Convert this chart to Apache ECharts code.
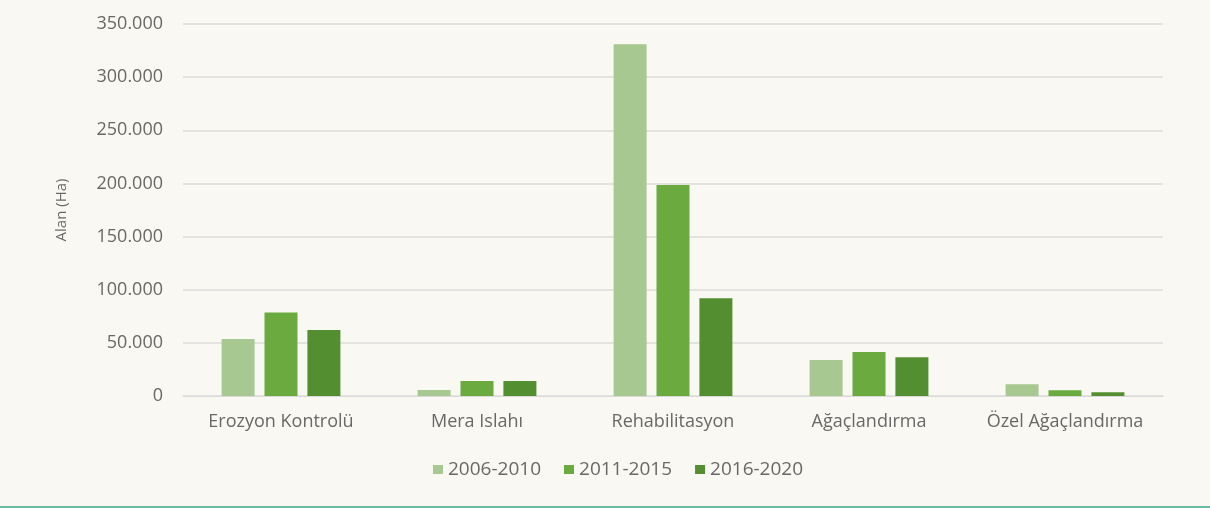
<!DOCTYPE html>
<html>
<head>
<meta charset="utf-8">
<script src="https://cdn.jsdelivr.net/npm/echarts@6/dist/echarts.min.js"></script>
<style>
  html, body { margin: 0; padding: 0; background: #faf8f2; }
  #chart { width: 1210px; height: 506px; }
  .bottom-line { width: 1210px; height: 2px; background: #6db7a3; }
</style>
</head>
<body>
<div id="chart"></div>
<div class="bottom-line"></div>
<script>
const categories = ['Erozyon Kontrolü', 'Mera Islahı', 'Rehabilitasyon', 'Ağaçlandırma', 'Özel Ağaçlandırma']
const periods = ['2006-2010', '2011-2015', '2016-2020']
const values2006 = [53600, 5600, 331000, 33900, 11000]
const values2011 = [78500, 14000, 198500, 41400, 5400]
const values2016 = [62000, 14000, 92000, 36400, 3500]
const colors = ['#a8c891', '#6aaa3f', '#538f31']

const chart = echarts.init(document.getElementById('chart'))
const textColor = '#686868'
const font = '"Open Sans", sans-serif'

chart.setOption({
  backgroundColor: '#faf8f2',
  animation: false,
  grid: { left: 183, right: 47, top: 24, bottom: 110 },
  legend: {
    top: 455,
    left: 428,
    itemWidth: 10,
    itemHeight: 9,
    itemGap: 23,
    icon: 'rect',
    textStyle: { color: textColor, fontSize: 19, fontFamily: font },
    data: periods,
  },
  xAxis: {
    type: 'category',
    data: categories,
    axisLine: { lineStyle: { color: '#d9d9d9' } },
    axisTick: { show: false },
    axisLabel: { color: textColor, fontSize: 18, fontFamily: font, margin: 17, interval: 0 },
  },
  yAxis: {
    type: 'value',
    min: 0,
    max: 350000,
    interval: 50000,
    name: 'Alan (Ha)',
    nameLocation: 'middle',
    nameGap: 114,
    nameTextStyle: { color: textColor, fontSize: 15, fontFamily: font },
    axisLine: { show: false },
    axisTick: { show: false },
    splitLine: { lineStyle: { color: '#dcdcdc', width: 1.5 } },
    axisLabel: {
      color: textColor,
      fontSize: 18,
      fontFamily: font,
      margin: 20,
      formatter: v => v === 0 ? '0' : (v / 1000).toFixed(0) + '.000',
    },
  },
  series: [values2006, values2011, values2016].map((data, i) => ({
    name: periods[i],
    type: 'bar',
    data: data,
    barWidth: 33,
    barGap: '30%',
    itemStyle: { color: colors[i] },
  })),
})
</script>
</body>
</html>
